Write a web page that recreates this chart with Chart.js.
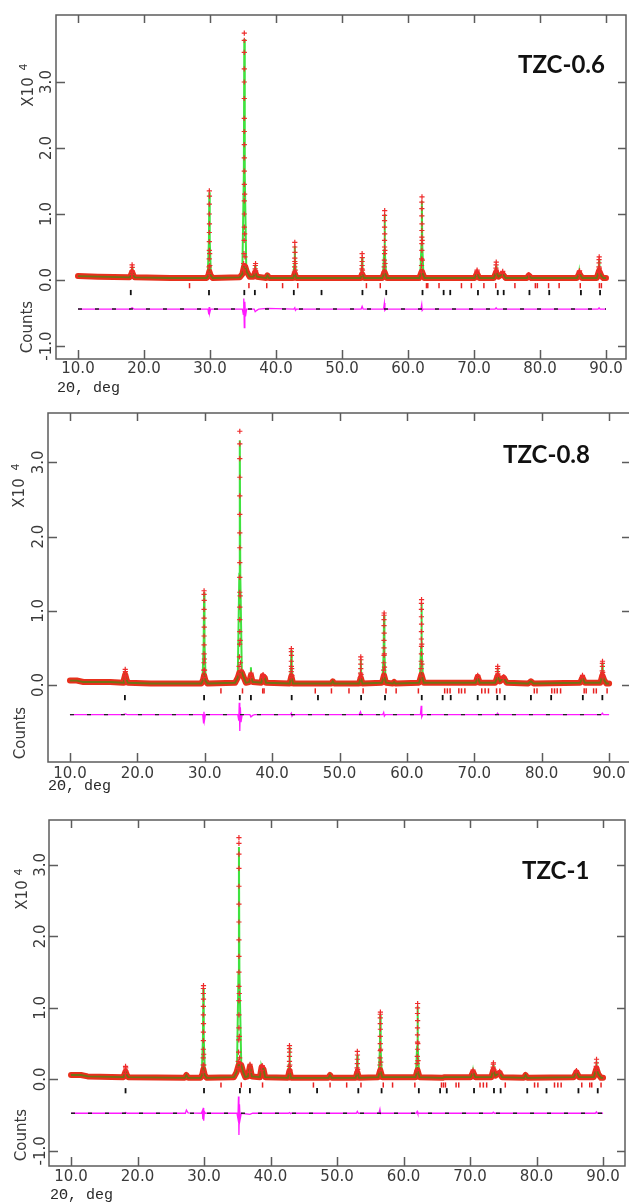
<!DOCTYPE html>
<html><head><meta charset="utf-8">
<script src="https://cdn.jsdelivr.net/npm/chart.js@4.4.1/dist/chart.umd.min.js"></script>
<style>
html,body{margin:0;padding:0;background:#fff;overflow:hidden;width:629px;height:1204px;position:relative;}
canvas{position:absolute;left:0;}
</style></head><body>
<canvas id="c1" width="640" height="400" style="top:0px"></canvas>
<canvas id="c2" width="640" height="400" style="top:400px"></canvas>
<canvas id="c3" width="640" height="404" style="top:800px"></canvas>
<script>
// ---------- tick labels ----------
const xTicks = [10,20,30,40,50,60,70,80,90];
const yTicks06 = [-1,0,1,2,3];
const yTicks08 = [0,1,2,3];
const yTicks1 = [-1,0,1,2,3];
const sampleNames = ['TZC-0.6','TZC-0.8','TZC-1'];

// ---------- TZC-0.6 ----------
const base06 = [[10,0.06],[13,0.05],[17.8,0.04],[18.0,0.07],[18.2,0.12],[18.4,0.07],[18.6,0.04],[24,0.03],[29.5,0.03],[29.75,0.07],[29.9,0.13],[30.1,0.07],[30.4,0.03],[34.5,0.04],[34.9,0.09],[35.15,0.2],[35.35,0.2],[35.6,0.12],[36.0,0.05],[36.6,0.05],[36.85,0.12],[37.1,0.05],[38.5,0.03],[38.7,0.07],[38.95,0.03],[42.6,0.03],[42.85,0.1],[43.1,0.03],[52.8,0.03],[53.05,0.09],[53.35,0.03],[56.1,0.03],[56.45,0.12],[56.8,0.03],[61.7,0.03],[62.1,0.13],[62.5,0.03],[70.1,0.03],[70.45,0.1],[70.8,0.03],[73.0,0.03],[73.35,0.12],[73.7,0.05],[74.35,0.09],[74.8,0.03],[78.0,0.03],[78.3,0.07],[78.7,0.03],[85.6,0.03],[85.95,0.1],[86.4,0.03],[88.6,0.03],[88.95,0.14],[89.3,0.06],[89.6,0.03],[90,0.03]];
const calc06 = [[17.95,0.04],[18.14,0.1],[18.2,0.2],[18.26,0.1],[18.45,0.04],[18.5,null],
[29.65,0.03],[29.84,0.6],[29.9,1.33],[29.96,0.6],[30.15,0.03],[30.2,null],
[34.9,0.09],[35.13,1.6],[35.2,3.65],[35.27,1.6],[35.5,0.15],[35.6,null],
[36.6,0.05],[36.8,0.11],[36.85,0.22],[36.9,0.11],[37.1,0.05],[37.2,null],
[42.6,0.03],[42.79,0.24],[42.85,0.52],[42.91,0.24],[43.1,0.03],[43.2,null],
[52.8,0.03],[52.99,0.16],[53.05,0.35],[53.11,0.16],[53.3,0.03],[53.4,null],
[56.2,0.03],[56.39,0.45],[56.45,1.0],[56.51,0.45],[56.7,0.03],[56.8,null],
[61.85,0.03],[62.04,0.54],[62.1,1.2],[62.16,0.54],[62.35,0.03],[62.4,null],
[70.2,0.03],[70.39,0.08],[70.45,0.13],[70.51,0.08],[70.7,0.03],[70.8,null],
[73.1,0.03],[73.29,0.12],[73.35,0.22],[73.41,0.12],[73.6,0.05],[73.7,null],
[74.1,0.04],[74.29,0.08],[74.35,0.12],[74.41,0.08],[74.6,0.03],[74.7,null],
[85.7,0.03],[85.89,0.07],[85.95,0.12],[86.01,0.07],[86.2,0.03],[86.3,null],
[88.7,0.03],[88.89,0.15],[88.95,0.3],[89.01,0.15],[89.2,0.05]];
const obs06 = [[18.15,0.08],[18.2,0.14],[18.22,0.19],[18.2,0.23],[18.25,0.12],
[29.85,0.1],[29.87,0.2],[29.88,0.32],[29.9,0.45],[29.9,0.58],[29.9,0.72],[29.92,0.85],[29.9,1.0],[29.9,1.15],[29.92,1.27],[29.9,1.35],[29.95,0.4],[29.97,0.22],
[35.05,0.15],[35.1,0.25],[35.15,0.4],[35.18,0.6],[35.2,0.8],[35.2,1.0],[35.2,1.2],[35.2,1.45],[35.2,1.65],[35.2,1.85],[35.2,2.05],[35.2,2.25],[35.2,2.45],[35.2,2.75],[35.2,3.0],[35.2,3.2],[35.2,3.45],[35.2,3.63],[35.2,3.74],[35.25,1.3],[35.25,0.7],[35.3,0.35],[35.35,0.22],
[36.8,0.12],[36.85,0.17],[36.87,0.22],[36.9,0.25],[36.92,0.14],
[42.8,0.12],[42.83,0.2],[42.85,0.28],[42.85,0.33],[42.87,0.42],[42.85,0.5],[42.85,0.57],[42.9,0.25],[42.92,0.15],
[53.0,0.1],[53.02,0.17],[53.05,0.22],[53.05,0.28],[53.07,0.34],[53.05,0.4],[53.1,0.15],
[56.38,0.12],[56.4,0.2],[56.42,0.3],[56.45,0.4],[56.45,0.5],[56.45,0.6],[56.47,0.7],[56.45,0.8],[56.45,0.9],[56.45,0.98],[56.47,1.05],[56.5,0.45],[56.52,0.25],
[62.02,0.12],[62.05,0.22],[62.07,0.32],[62.1,0.45],[62.1,0.55],[62.1,0.65],[62.1,0.75],[62.12,0.85],[62.1,0.97],[62.1,1.08],[62.1,1.18],[62.12,1.26],[62.15,0.6],[62.18,0.3],
[70.4,0.1],[70.45,0.13],[70.47,0.15],
[73.3,0.12],[73.33,0.18],[73.35,0.23],[73.37,0.27],[73.4,0.15],
[74.3,0.1],[74.35,0.13],[78.3,0.08],
[85.9,0.1],[85.95,0.13],[86.0,0.14],
[88.9,0.12],[88.93,0.2],[88.95,0.26],[88.95,0.31],[88.97,0.35],[89.0,0.18],[89.05,0.12]];
const diff06 = [[10,-0.44],[17.9,-0.44],[18.2,-0.42],[18.5,-0.44],[29.7,-0.44],[29.82,-0.52],[29.88,-0.41],[29.95,-0.5],[30.1,-0.44],[34.9,-0.44],[35.05,-0.52],[35.12,-0.28],[35.2,-0.72],[35.28,-0.33],[35.38,-0.55],[35.55,-0.44],[36.7,-0.44],[36.85,-0.48],[37.1,-0.46],[37.4,-0.44],[38.7,-0.43],[42.7,-0.44],[42.85,-0.42],[42.95,-0.46],[43.1,-0.44],[52.9,-0.44],[53.05,-0.4],[53.2,-0.44],[56.3,-0.44],[56.42,-0.35],[56.5,-0.46],[56.65,-0.44],[61.95,-0.44],[62.08,-0.37],[62.15,-0.46],[62.3,-0.44],[73.2,-0.44],[73.35,-0.42],[73.5,-0.44],[88.8,-0.44],[88.95,-0.42],[89.1,-0.44],[90,-0.44]];
const diffZero06 = [[10,-0.44],[90,-0.44]];
const phaseA06 = [26.9,35.9,38.6,41.0,43.3,53.7,55.8,62.8,63.0,64.7,68.1,69.6,71.5,73.3,76.2,79.3,79.6,81.3,82.9,86.1,89.0,89.3];
const phaseB06 = [18.0,29.85,35.2,36.8,42.7,46.9,53.1,56.7,62.2,65.4,66.4,70.6,73.6,74.5,78.4,81.4,86.2,89.1];

// ---------- TZC-0.8 ----------
const base08 = [[10,0.06],[11,0.06],[12,0.04],[16,0.04],[17.9,0.03],[18.0,0.07],[18.2,0.14],[18.4,0.07],[18.6,0.03],[22,0.02],[29.5,0.02],[29.75,0.07],[29.9,0.13],[30.1,0.06],[30.4,0.02],[34.5,0.03],[34.9,0.1],[35.15,0.17],[35.5,0.17],[35.8,0.1],[36.1,0.03],[36.6,0.04],[36.85,0.13],[37.1,0.04],[38.4,0.03],[38.6,0.12],[38.9,0.1],[39.1,0.03],[42.6,0.02],[42.85,0.12],[43.1,0.02],[48.8,0.02],[49.0,0.05],[49.2,0.02],[52.9,0.02],[53.15,0.1],[53.4,0.02],[56.3,0.03],[56.6,0.13],[56.9,0.03],[57.9,0.02],[58.1,0.04],[58.3,0.02],[61.8,0.03],[62.15,0.14],[62.5,0.03],[70.2,0.03],[70.5,0.11],[70.8,0.03],[73.1,0.03],[73.45,0.12],[73.8,0.05],[74.35,0.1],[74.8,0.03],[78.0,0.02],[78.4,0.05],[78.8,0.02],[85.7,0.03],[86.05,0.1],[86.4,0.03],[88.7,0.03],[89.0,0.13],[89.3,0.06],[89.6,0.02],[90,0.02]];
const calc08 = [[17.95,0.03],[18.14,0.09],[18.2,0.18],[18.26,0.09],[18.45,0.03],[18.5,null],
[29.65,0.02],[29.84,0.56],[29.9,1.25],[29.96,0.56],[30.15,0.02],[30.2,null],
[34.9,0.1],[35.13,1.5],[35.2,3.3],[35.27,1.5],[35.5,0.17],[35.6,null],
[36.6,0.04],[36.79,0.12],[36.85,0.24],[36.91,0.12],[37.1,0.04],[37.2,null],
[38.4,0.03],[38.59,0.1],[38.65,0.12],[38.75,0.11],[39.0,0.03],[39.1,null],
[42.6,0.02],[42.79,0.22],[42.85,0.47],[42.91,0.22],[43.1,0.02],[43.2,null],
[52.9,0.02],[53.09,0.16],[53.15,0.34],[53.21,0.16],[53.4,0.02],[53.5,null],
[56.35,0.03],[56.54,0.42],[56.6,0.93],[56.66,0.42],[56.85,0.03],[56.9,null],
[61.9,0.03],[62.09,0.5],[62.15,1.1],[62.21,0.5],[62.4,0.03],[62.5,null],
[70.25,0.03],[70.44,0.08],[70.5,0.12],[70.56,0.08],[70.75,0.03],[70.8,null],
[73.2,0.03],[73.39,0.12],[73.45,0.22],[73.51,0.12],[73.7,0.05],[73.8,null],
[74.1,0.04],[74.29,0.08],[74.35,0.12],[74.41,0.08],[74.6,0.03],[74.7,null],
[85.8,0.03],[85.99,0.07],[86.05,0.12],[86.11,0.07],[86.3,0.03],[86.4,null],
[88.75,0.03],[88.94,0.15],[89.0,0.3],[89.06,0.15],[89.25,0.05]];
const obs08 = [[18.15,0.08],[18.2,0.13],[18.22,0.18],[18.2,0.21],[18.25,0.11],
[29.85,0.1],[29.87,0.2],[29.88,0.3],[29.9,0.42],[29.9,0.54],[29.9,0.66],[29.92,0.78],[29.9,0.9],[29.9,1.02],[29.92,1.14],[29.9,1.22],[29.9,1.27],[29.95,0.35],[29.97,0.2],
[35.05,0.15],[35.1,0.25],[35.15,0.38],[35.18,0.55],[35.2,0.72],[35.2,0.88],[35.2,1.05],[35.2,1.25],[35.2,1.45],[35.2,1.65],[35.2,1.85],[35.2,2.05],[35.2,2.3],[35.2,2.55],[35.2,2.8],[35.2,3.05],[35.2,3.25],[35.2,3.42],[35.25,1.2],[35.25,0.6],[35.3,0.3],[35.4,0.2],
[36.8,0.1],[36.85,0.14],[36.88,0.16],
[38.6,0.1],[38.65,0.14],[38.75,0.12],
[42.8,0.1],[42.83,0.18],[42.85,0.25],[42.85,0.32],[42.87,0.4],[42.85,0.45],[42.85,0.49],[42.9,0.22],[42.92,0.13],
[53.1,0.1],[53.12,0.16],[53.15,0.22],[53.15,0.28],[53.17,0.34],[53.15,0.38],[53.2,0.14],
[56.53,0.12],[56.55,0.2],[56.57,0.3],[56.6,0.4],[56.6,0.5],[56.6,0.6],[56.62,0.7],[56.6,0.8],[56.6,0.88],[56.6,0.94],[56.62,0.97],[56.65,0.42],[56.67,0.24],
[62.07,0.12],[62.1,0.22],[62.12,0.32],[62.15,0.42],[62.15,0.52],[62.15,0.62],[62.15,0.72],[62.17,0.82],[62.15,0.92],[62.15,1.02],[62.15,1.1],[62.17,1.15],[62.2,0.55],[62.23,0.28],
[70.45,0.1],[70.5,0.13],
[73.4,0.12],[73.43,0.18],[73.45,0.22],[73.47,0.25],[73.5,0.15],
[74.3,0.09],[74.35,0.11],
[86.0,0.1],[86.05,0.13],
[88.95,0.12],[88.98,0.19],[89.0,0.25],[89.0,0.29],[89.02,0.32],[89.05,0.17],[89.1,0.11]];
const diff08 = [[10,-0.4],[17.9,-0.4],[18.2,-0.39],[18.5,-0.4],[29.7,-0.4],[29.82,-0.51],[29.88,-0.36],[29.95,-0.48],[30.1,-0.4],[34.9,-0.4],[35.05,-0.48],[35.12,-0.24],[35.2,-0.62],[35.28,-0.3],[35.38,-0.5],[35.55,-0.4],[36.7,-0.4],[36.85,-0.43],[37.1,-0.41],[37.4,-0.4],[42.7,-0.4],[42.85,-0.38],[42.95,-0.42],[43.1,-0.4],[52.9,-0.4],[53.1,-0.36],[53.25,-0.4],[56.4,-0.4],[56.55,-0.37],[56.65,-0.42],[56.8,-0.4],[62.0,-0.4],[62.12,-0.28],[62.2,-0.43],[62.35,-0.4],[73.3,-0.4],[73.45,-0.38],[73.6,-0.4],[88.85,-0.4],[89.0,-0.38],[89.15,-0.4],[90,-0.4]];
const diffZero08 = [[10,-0.4],[90,-0.4]];
const phaseA08 = [32.4,35.6,38.6,38.8,46.4,48.8,51.4,53.5,56.9,58.4,61.7,65.6,66.0,66.4,67.7,68.1,68.6,71.1,71.6,72.1,73.3,73.8,78.9,79.3,81.5,81.9,82.3,82.8,86.3,86.6,87.7,88.1,89.7];
const phaseB08 = [18.15,29.9,35.2,36.85,42.9,46.8,53.2,56.75,62.2,65.3,66.5,70.5,73.4,74.5,78.4,81.4,86.1,89.0];

// ---------- TZC-1 ----------
const base1 = [[10,0.06],[11.5,0.06],[12.5,0.04],[17.9,0.03],[18.0,0.06],[18.2,0.11],[18.4,0.06],[18.6,0.03],[27.1,0.02],[27.35,0.06],[27.6,0.02],[29.5,0.02],[29.75,0.07],[29.9,0.14],[30.1,0.06],[30.4,0.02],[34.5,0.03],[34.9,0.1],[35.2,0.2],[35.6,0.2],[35.9,0.1],[36.2,0.03],[36.6,0.04],[36.9,0.18],[37.2,0.04],[38.4,0.03],[38.65,0.17],[38.95,0.14],[39.2,0.03],[42.6,0.02],[42.85,0.12],[43.1,0.02],[48.7,0.02],[48.95,0.06],[49.2,0.02],[52.8,0.02],[53.05,0.1],[53.3,0.02],[56.2,0.03],[56.5,0.13],[56.8,0.03],[61.8,0.03],[62.1,0.13],[62.4,0.03],[65.9,0.02],[66.1,0.03],[68,0.03],[70.1,0.03],[70.45,0.1],[70.8,0.03],[73.2,0.03],[73.5,0.13],[73.8,0.05],[74.45,0.09],[74.8,0.03],[78.1,0.02],[78.35,0.06],[78.6,0.02],[85.6,0.03],[86.0,0.1],[86.4,0.03],[88.6,0.03],[89.0,0.15],[89.3,0.07],[89.7,0.02],[90,0.02]];
const calc1 = [[17.95,0.03],[18.14,0.08],[18.2,0.14],[18.26,0.08],[18.45,0.03],[18.5,null],
[29.65,0.02],[29.84,0.58],[29.9,1.27],[29.96,0.58],[30.15,0.02],[30.2,null],
[34.95,0.1],[35.18,1.5],[35.25,3.25],[35.32,1.5],[35.6,0.2],[35.7,null],
[36.65,0.04],[36.84,0.12],[36.9,0.2],[36.96,0.12],[37.15,0.04],[37.2,null],
[38.4,0.03],[38.59,0.14],[38.65,0.18],[38.75,0.15],[39.0,0.03],[39.1,null],
[42.6,0.02],[42.79,0.21],[42.85,0.45],[42.91,0.21],[43.1,0.02],[43.2,null],
[52.8,0.02],[52.99,0.16],[53.05,0.34],[53.11,0.16],[53.3,0.02],[53.4,null],
[56.25,0.03],[56.44,0.41],[56.5,0.9],[56.56,0.41],[56.75,0.03],[56.8,null],
[61.85,0.03],[62.04,0.46],[62.1,1.02],[62.16,0.46],[62.35,0.03],[62.4,null],
[70.2,0.03],[70.39,0.07],[70.45,0.11],[70.51,0.07],[70.7,0.03],[70.8,null],
[73.25,0.03],[73.44,0.11],[73.5,0.2],[73.56,0.11],[73.75,0.05],[73.8,null],
[74.2,0.04],[74.39,0.07],[74.45,0.1],[74.51,0.07],[74.7,0.03],[74.8,null],
[85.75,0.03],[85.94,0.07],[86.0,0.11],[86.06,0.07],[86.25,0.03],[86.3,null],
[88.75,0.03],[88.94,0.13],[89.0,0.25],[89.06,0.13],[89.25,0.05]];
const obs1 = [[18.15,0.08],[18.2,0.12],[18.22,0.16],[18.2,0.18],
[29.85,0.1],[29.87,0.2],[29.88,0.3],[29.9,0.42],[29.9,0.54],[29.9,0.66],[29.92,0.78],[29.9,0.9],[29.9,1.02],[29.92,1.12],[29.9,1.2],[29.9,1.27],[29.92,1.31],[29.95,0.35],[29.97,0.2],
[35.1,0.15],[35.15,0.25],[35.2,0.38],[35.23,0.55],[35.25,0.72],[35.25,0.9],[35.25,1.1],[35.25,1.3],[35.25,1.5],[35.25,1.72],[35.25,1.95],[35.25,2.2],[35.25,2.45],[35.25,2.7],[35.25,2.95],[35.25,3.15],[35.25,3.3],[35.25,3.38],[35.3,1.2],[35.3,0.6],[35.35,0.3],[35.5,0.22],
[36.85,0.1],[36.9,0.16],[36.92,0.21],
[38.6,0.12],[38.65,0.17],[38.75,0.19],
[42.8,0.1],[42.83,0.18],[42.85,0.25],[42.85,0.32],[42.87,0.38],[42.85,0.43],[42.85,0.47],[42.9,0.2],[42.92,0.13],
[53.0,0.1],[53.02,0.16],[53.05,0.22],[53.05,0.28],[53.07,0.34],[53.05,0.39],[53.1,0.14],
[56.43,0.12],[56.45,0.2],[56.47,0.3],[56.5,0.4],[56.5,0.5],[56.5,0.6],[56.52,0.7],[56.5,0.78],[56.5,0.86],[56.5,0.91],[56.52,0.94],[56.55,0.42],[56.57,0.24],
[62.02,0.12],[62.05,0.22],[62.07,0.32],[62.1,0.42],[62.1,0.52],[62.1,0.62],[62.1,0.72],[62.12,0.82],[62.1,0.92],[62.1,1.0],[62.12,1.06],[62.15,0.5],[62.18,0.26],
[70.4,0.1],[70.45,0.13],
[73.45,0.12],[73.48,0.17],[73.5,0.21],[73.52,0.23],[73.55,0.14],
[74.4,0.09],[74.45,0.11],
[85.95,0.1],[86.0,0.12],
[88.95,0.12],[88.98,0.18],[89.0,0.23],[89.02,0.28],[89.05,0.16]];
const diff1 = [[10,-0.475],[17.9,-0.475],[18.2,-0.465],[18.5,-0.475],[27.2,-0.475],[27.35,-0.43],[27.6,-0.47],[29.6,-0.475],[29.75,-0.44],[29.82,-0.56],[29.88,-0.4],[29.95,-0.58],[30.05,-0.45],[30.2,-0.475],[34.95,-0.475],[35.1,-0.55],[35.18,-0.24],[35.25,-0.78],[35.33,-0.35],[35.43,-0.56],[35.6,-0.475],[36.9,-0.49],[37.3,-0.475],[42.7,-0.475],[42.85,-0.465],[43.0,-0.48],[43.1,-0.475],[52.9,-0.475],[53.05,-0.45],[53.2,-0.475],[56.3,-0.475],[56.45,-0.42],[56.55,-0.48],[56.7,-0.475],[61.9,-0.475],[62.05,-0.45],[62.15,-0.48],[62.3,-0.475],[73.35,-0.475],[73.5,-0.46],[73.65,-0.475],[88.85,-0.475],[89.0,-0.455],[89.15,-0.475],[90,-0.475]];
const diffZero1 = [[10,-0.475],[90,-0.475]];
const phaseA1 = [32.55,35.6,38.8,46.45,48.95,51.45,53.6,56.95,58.35,61.7,65.7,66.0,66.3,67.9,68.3,71.5,72.0,72.5,75.3,79.7,80.2,82.7,83.2,83.7,86.8,88.0,88.3,89.7];
const phaseB1 = [18.2,30.0,35.4,36.9,42.9,47.0,53.2,56.7,62.3,65.5,66.5,70.6,73.6,74.6,78.6,81.5,86.3,89.2];

// ---------- drawing ----------
const framePlugin = {
  id: 'frame',
  afterDatasetsDraw(chart, args, o) {
    const ctx = chart.ctx, a = chart.chartArea, x = chart.scales.x, y = chart.scales.y;
    ctx.save();
    ctx.strokeStyle = '#5c5c5c'; ctx.lineWidth = 1.5;
    ctx.strokeRect(a.left, a.top, a.right - a.left, a.bottom - a.top);
    ctx.beginPath();
    o.xTicks.forEach(v => { const px = Math.round(x.getPixelForValue(v)) + 0.5;
      ctx.moveTo(px, a.top); ctx.lineTo(px, a.top + 8);
      ctx.moveTo(px, a.bottom); ctx.lineTo(px, a.bottom - 9); });
    o.yTicks.forEach(v => { const py = Math.round(y.getPixelForValue(v)) + 0.5;
      ctx.moveTo(a.left, py); ctx.lineTo(a.left + 9, py);
      ctx.moveTo(a.right, py); ctx.lineTo(a.right - 8, py); });
    ctx.stroke();
    ctx.fillStyle = '#3a3a3a'; ctx.textAlign = 'center'; ctx.textBaseline = 'middle';
    ctx.font = '15px "DejaVu Sans"';
    o.xTicks.forEach(v => ctx.fillText(v.toFixed(1), x.getPixelForValue(v), a.bottom + o.xLab));
    const rot = (t, sx, sy) => { ctx.save(); ctx.translate(sx, sy); ctx.rotate(-Math.PI / 2); ctx.fillText(t, 0, 0); ctx.restore(); };
    o.yTicks.forEach(v => rot(v.toFixed(1), a.left - o.yLab, y.getPixelForValue(v)));
    rot('X10', o.x10[0], o.x10[1]);
    rot('Counts', o.counts[0], o.counts[1]);
    ctx.font = '11px "DejaVu Sans"';
    rot('4', o.sup[0], o.sup[1]);
    ctx.font = '15px "Liberation Mono"'; ctx.textAlign = 'left'; ctx.fillStyle = '#2a2a2a';
    ctx.fillText('2\u0398, deg', o.xTitle[0], o.xTitle[1]);
    ctx.font = 'bold 24px Lato'; ctx.fillStyle = '#111';
    ctx.fillText(o.name, o.nameAt[0], o.nameAt[1]);
    ctx.restore();
  }
};

function row(xs, yv) { return xs.map(v => [v, yv]); }

function makeChart(id, p) {
  new Chart(document.getElementById(id), {
    type: 'scatter',
    data: { datasets: [
      {data: p.calc, showLine: true, borderColor: '#3fe23f', borderWidth: 2, pointRadius: 0, order: 7},
      {data: p.base, showLine: true, borderColor: '#e8301c', borderWidth: 6, borderCapStyle: 'round', borderJoinStyle: 'round', pointRadius: 0, order: 6},
      {data: p.base, showLine: true, borderColor: '#6f7314', borderWidth: 1.8, pointRadius: 0, order: 5},
      {data: p.obs, showLine: false, pointStyle: 'cross', pointRadius: 2.6, pointBorderColor: '#ef2b2b', pointBorderWidth: 1.2, borderColor: '#ef2b2b', order: 4},
      {data: p.diff, showLine: true, borderColor: '#ff1aff', borderWidth: 1.3, pointRadius: 0, order: 7},
      {data: p.diffZero, showLine: true, borderColor: '#222', borderWidth: 1.4, borderDash: [4, 13], pointRadius: 0, order: 3},
      {data: row(p.phaseA, p.rowA), pointStyle: 'line', rotation: 90, pointRadius: 2.6, pointBorderColor: '#e82020', pointBorderWidth: 1.5, borderColor: '#e82020', order: 2},
      {data: row(p.phaseB, p.rowB), pointStyle: 'line', rotation: 90, pointRadius: 2.6, pointBorderColor: '#111', pointBorderWidth: 1.8, borderColor: '#111', order: 2}
    ]},
    options: {
      responsive: false, animation: false, events: [],
      layout: {padding: p.pad},
      scales: {
        x: {type: 'linear', display: false, min: p.xr[0], max: p.xr[1]},
        y: {type: 'linear', display: false, min: p.yr[0], max: p.yr[1]}
      },
      plugins: {legend: {display: false}, tooltip: {enabled: false}, frame: p.lab}
    },
    plugins: [framePlugin]
  });
}

makeChart('c1', {calc: calc06, base: base06, obs: obs06, diff: diff06, diffZero: diffZero06,
  phaseA: phaseA06, phaseB: phaseB06, rowA: -0.086, rowB: -0.19,
  pad: {left: 56, top: 15, right: 14, bottom: 41}, xr: [6.67, 93.03], yr: [-1.197, 4.015],
  lab: {xTicks: xTicks, yTicks: yTicks06, xLab: 10, yLab: 9, xTitle: [57, 388], x10: [29, 92], sup: [24, 67], counts: [28, 327], name: sampleNames[0], nameAt: [518, 65]}});
makeChart('c2', {calc: calc08, base: base08, obs: obs08, diff: diff08, diffZero: diffZero08,
  phaseA: phaseA08, phaseB: phaseB08, rowA: -0.08, rowB: -0.17,
  pad: {left: 48, top: 13, right: 10, bottom: 38}, xr: [6.74, 93.1], yr: [-1.038, 3.666],
  lab: {xTicks: xTicks, yTicks: yTicks08, xLab: 12, yLab: 9, xTitle: [48, 386], x10: [20, 93], sup: [16, 67], counts: [21, 333], name: sampleNames[1], nameAt: [503, 55]}});
makeChart('c3', {calc: calc1, base: base1, obs: obs1, diff: diff1, diffZero: diffZero1,
  phaseA: phaseA1, phaseB: phaseB1, rowA: -0.08, rowB: -0.16,
  pad: {left: 49, top: 20, right: 15, bottom: 38}, xr: [6.69, 93.3], yr: [-1.213, 3.627],
  lab: {xTicks: xTicks, yTicks: yTicks1, xLab: 11, yLab: 8, xTitle: [50, 395], x10: [23, 95], sup: [19, 72], counts: [22, 335], name: sampleNames[2], nameAt: [522, 71]}});
</script>
</body></html>
